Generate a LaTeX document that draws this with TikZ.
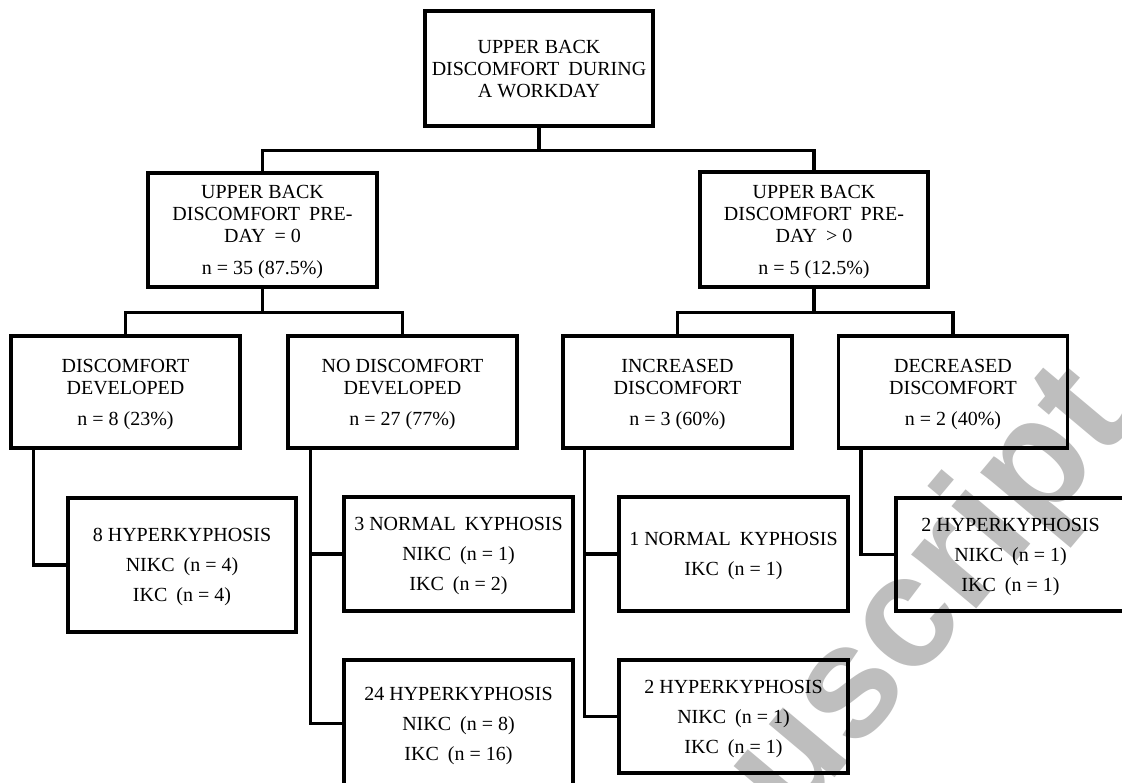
\documentclass[tikz,border=0pt]{standalone}
\usepackage{fontspec}
\usetikzlibrary{calc}
\setmainfont{Liberation Serif}
\newfontfamily\wmfont{Liberation Sans}
\definecolor{wmgray}{RGB}{190,190,190}
\tikzset{
  box/.style={draw, line width=3.1pt, inner sep=0pt, align=center, text depth=0pt,
              font=\fontsize{20}{22}\selectfont},
  leaf/.style={box, font=\fontsize{20}{30}\selectfont},
  link/.style={line width=3.1pt, line join=miter},
  wm/.style={text=wmgray, font=\fontsize{160}{160}\selectfont\wmfont\bfseries, inner sep=0pt}
}
\newcommand{\dsp}{\hspace{0.45em}}
\begin{document}
\begin{tikzpicture}[x=1pt, y=-1pt]
\clip (0,0) rectangle (1122,783);
\fill[white] (0,0) rectangle (1122,783);
% watermark
\node[wm, rotate=50, anchor=base west] (wmark) at (581,1081) {manuscript};
% level 1
\node[box, minimum width=228pt, minimum height=115pt] (top) at (539,68.5)
  {UPPER BACK\\DISCOMFORT\dsp DURING\\A WORKDAY};
% level 2
\node[box, minimum width=229pt, minimum height=114pt] (l2a) at (262.5,230)
  {UPPER BACK\\DISCOMFORT\dsp PRE-\\DAY\dsp = 0\\[10pt]n = 35 (87.5\%)};
\node[box, minimum width=228pt, minimum height=115pt] (l2b) at (814,229.5)
  {UPPER BACK\\DISCOMFORT\dsp PRE-\\DAY\dsp > 0\\[10pt]n = 5 (12.5\%)};
% level 3
\node[box, minimum width=229pt, minimum height=112pt] (l3a) at (125.5,392)
  {DISCOMFORT\\DEVELOPED\\[9pt]n = 8 (23\%)};
\node[box, minimum width=229pt, minimum height=112pt] (l3b) at (402.5,392)
  {NO DISCOMFORT\\DEVELOPED\\[9pt]n = 27 (77\%)};
\node[box, minimum width=229pt, minimum height=112pt] (l3c) at (677.5,392)
  {INCREASED\\DISCOMFORT\\[9pt]n = 3 (60\%)};
\node[box, minimum width=229pt, minimum height=112pt] (l3d) at (953,392)
  {DECREASED\\DISCOMFORT\\[9pt]n = 2 (40\%)};
% level 4
\node[leaf, minimum width=228pt, minimum height=134pt] (l4a) at (182,565)
  {8 HYPERKYPHOSIS\\NIKC\dsp (n = 4)\\IKC\dsp (n = 4)};
\node[leaf, minimum width=229pt, minimum height=114pt] (l4b) at (458.5,554)
  {3 NORMAL\dsp KYPHOSIS\\NIKC\dsp (n = 1)\\IKC\dsp (n = 2)};
\node[leaf, minimum width=229pt, minimum height=127pt] (l4c) at (458.5,723.5)
  {24 HYPERKYPHOSIS\\NIKC\dsp (n = 8)\\IKC\dsp (n = 16)};
\node[leaf, minimum width=229pt, minimum height=114pt] (l4d) at (733.5,554)
  {1 NORMAL\dsp KYPHOSIS\\IKC\dsp (n = 1)};
\node[leaf, minimum width=229pt, minimum height=113pt] (l4e) at (733.5,716.5)
  {2 HYPERKYPHOSIS\\NIKC\dsp (n = 1)\\IKC\dsp (n = 1)};
\node[leaf, minimum width=229pt, minimum height=113pt] (l4f) at (1010.5,554.5)
  {2 HYPERKYPHOSIS\\NIKC\dsp (n = 1)\\IKC\dsp (n = 1)};
% connectors level 1 -> 2
\coordinate (j1) at ($(top.south)+(0,23)$);
\draw[link] (top.south) -- (j1) -| (l2a.north);
\draw[link] (j1) -| (l2b.north);
% level 2 -> 3
\coordinate (j2a) at ($(l2a.south)+(0,24)$);
\draw[link] (l2a.south) -- (j2a) -| (l3a.north);
\draw[link] (j2a) -| (l3b.north);
\coordinate (j2b) at ($(l2b.south)+(0,24)$);
\draw[link] (l2b.south) -- (j2b) -| (l3c.north);
\draw[link] (j2b) -| (l3d.north);
% level 3 -> 4
\coordinate (t3a) at ($(l3a.south west)+(24,0)$);
\draw[link] (t3a) |- (l4a.west);
\coordinate (t3b) at ($(l3b.south west)+(24,0)$);
\draw[link] (t3b) |- (l4b.west);
\draw[link] (t3b) |- (l4c.west);
\coordinate (t3c) at ($(l3c.south west)+(23,0)$);
\draw[link] (t3c) |- (l4d.west);
\draw[link] (t3c) |- (l4e.west);
\coordinate (t3d) at ($(l3d.south west)+(24,0)$);
\draw[link] (t3d) |- (l4f.west);
\end{tikzpicture}
\end{document}
